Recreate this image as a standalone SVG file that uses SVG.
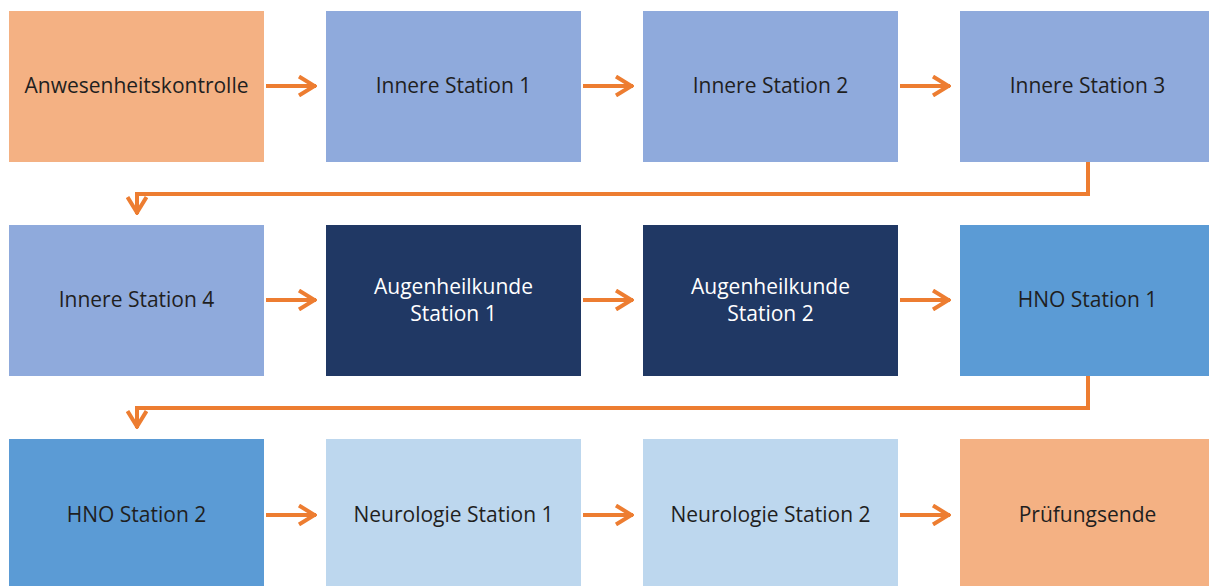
<svg xmlns="http://www.w3.org/2000/svg" width="1209" height="586" viewBox="0 0 1209 586">
<style>
.t{font-family:"Open Sans","Liberation Sans",Arial,sans-serif;font-size:21px;text-anchor:middle;dominant-baseline:central}
.dk{fill:#1f1f1f}.lt{fill:#ffffff}
.c{fill:none;stroke:#ED7D31;stroke-width:4}
</style>
<defs>
<marker id="ah" viewBox="0 0 20 22" refX="19" refY="11" markerWidth="20" markerHeight="22" markerUnits="userSpaceOnUse" orient="auto">
<path d="M2,1.5 L17.5,11 L2,20.5" fill="none" stroke="#ED7D31" stroke-width="4"/>
</marker>
</defs>
<rect width="1209" height="586" fill="#ffffff"/>
<g id="n1"><rect x="9" y="11" width="255" height="151" fill="#F4B183"/><text class="t dk" x="136.5" y="85">Anwesenheitskontrolle</text></g>
<g id="n2"><rect x="326" y="11" width="255" height="151" fill="#8FAADC"/><text class="t dk" x="453.5" y="85">Innere Station 1</text></g>
<g id="n3"><rect x="643" y="11" width="255" height="151" fill="#8FAADC"/><text class="t dk" x="770.5" y="85">Innere Station 2</text></g>
<g id="n4"><rect x="960" y="11" width="249" height="151" fill="#8FAADC"/><text class="t dk" x="1087.5" y="85">Innere Station 3</text></g>
<g id="n5"><rect x="9" y="225" width="255" height="151" fill="#8FAADC"/><text class="t dk" x="136.5" y="299">Innere Station 4</text></g>
<g id="n6"><rect x="326" y="225" width="255" height="151" fill="#203864"/><text class="t lt" x="453.5" y="286">Augenheilkunde</text><text class="t lt" x="453.5" y="313">Station 1</text></g>
<g id="n7"><rect x="643" y="225" width="255" height="151" fill="#203864"/><text class="t lt" x="770.5" y="286">Augenheilkunde</text><text class="t lt" x="770.5" y="313">Station 2</text></g>
<g id="n8"><rect x="960" y="225" width="249" height="151" fill="#5B9BD5"/><text class="t dk" x="1087.5" y="299">HNO Station 1</text></g>
<g id="n9"><rect x="9" y="439" width="255" height="147" fill="#5B9BD5"/><text class="t dk" x="136.5" y="514">HNO Station 2</text></g>
<g id="n10"><rect x="326" y="439" width="255" height="147" fill="#BDD7EE"/><text class="t dk" x="453.5" y="514">Neurologie Station 1</text></g>
<g id="n11"><rect x="643" y="439" width="255" height="147" fill="#BDD7EE"/><text class="t dk" x="770.5" y="514">Neurologie Station 2</text></g>
<g id="n12"><rect x="960" y="439" width="249" height="147" fill="#F4B183"/><text class="t dk" x="1087.5" y="514">Prüfungsende</text></g>
<g id="connectors">
<path class="c" d="M266,86 H316" marker-end="url(#ah)"/>
<path class="c" d="M583,86 H633" marker-end="url(#ah)"/>
<path class="c" d="M900,86 H950" marker-end="url(#ah)"/>
<path class="c" d="M1088,162 V194 H137 V214" marker-end="url(#ah)"/>
<path class="c" d="M266,300 H316" marker-end="url(#ah)"/>
<path class="c" d="M583,300 H633" marker-end="url(#ah)"/>
<path class="c" d="M900,300 H950" marker-end="url(#ah)"/>
<path class="c" d="M1088,376 V408 H137 V428" marker-end="url(#ah)"/>
<path class="c" d="M266,515 H316" marker-end="url(#ah)"/>
<path class="c" d="M583,515 H633" marker-end="url(#ah)"/>
<path class="c" d="M900,515 H950" marker-end="url(#ah)"/>
</g>
</svg>
